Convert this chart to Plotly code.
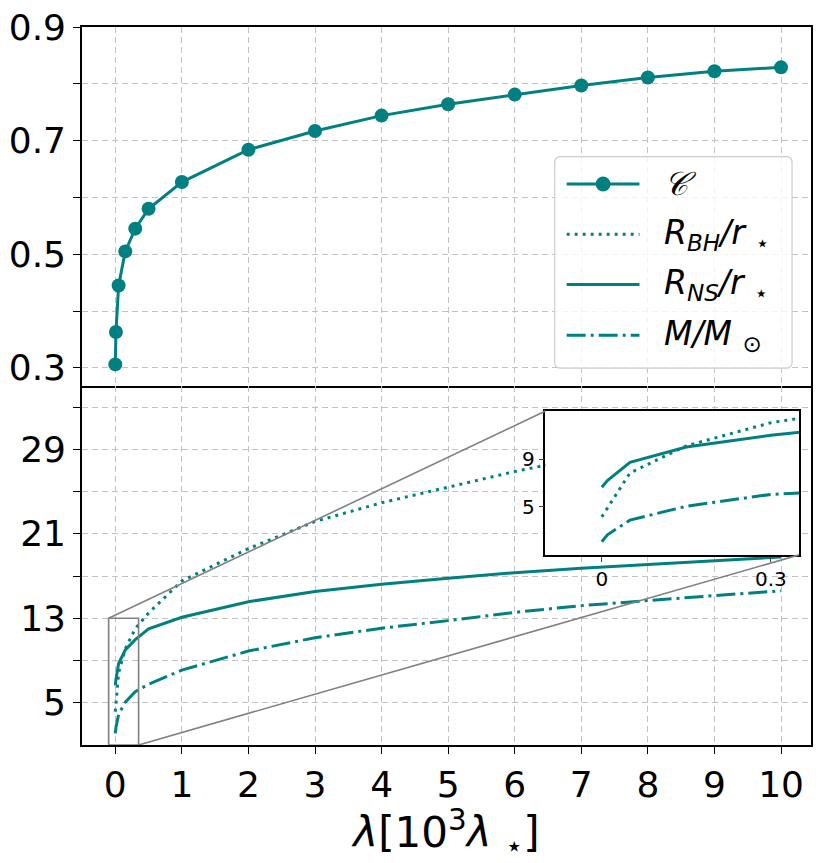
import plotly.graph_objects as go

# ---------------- data ----------------
lam = [0, 0.01, 0.05, 0.15, 0.3, 0.5, 1, 2, 3, 4, 5, 6, 7, 8, 9, 10]
compactness = [0.306, 0.363, 0.445, 0.505, 0.545, 0.580, 0.627, 0.684, 0.717,
               0.744, 0.764, 0.781, 0.797, 0.811, 0.822, 0.829]
r_bh = [4.17, 4.9, 7.84, 10.1, 12.03, 13.5, 16.54, 19.6, 22.17, 23.94, 25.44,
        26.9, 28.2, 29.4, 30.5, 31.5]
r_ns = [6.65, 7.2, 8.72, 10.0, 10.98, 12.0, 13.1, 14.57, 15.54, 16.23, 16.79,
        17.32, 17.75, 18.1, 18.45, 18.8]
mass = [2.1, 2.68, 3.9, 5.06, 6.05, 6.76, 8.09, 9.9, 11.16, 12.06, 12.78,
        13.56, 14.2, 14.7, 15.15, 15.6]

x_ticks = list(range(0, 11))
top_major = [0.3, 0.5, 0.7, 0.9]
top_minor = [0.4, 0.6, 0.8]
bot_major = [5, 13, 21, 29]
bot_minor = [9, 17, 25, 33]
inset_xticks = [0, 0.3]
inset_yticks = [5, 9]

legend_names = ["<i>𝒞</i>",
                "<i>R</i><sub><i>BH</i></sub><i>/r</i> <sub>⋆</sub>",
                "<i>R</i><sub><i>NS</i></sub><i>/r</i> <sub>⋆</sub>",
                "<i>M/M</i> <sub>⊙</sub>"]

# ---------------- style ----------------
TEAL = "#008080"
GRID = "#c2c2c2"
GRAY = "#808080"
FONT = "DejaVu Sans"
DOT = "3px,5px"
DASHDOT = "19px,5px,3px,5px"
LW = 3

W, H = 820, 863
ML, MR, MT, MB = 82, 7, 21, 118
PW, PH = W - ML - MR, H - MT - MB

XR = [-0.5, 10.45]
YR_TOP = [0.268, 0.9]
YR_BOT = [1, 35]
INSET_XR = [-0.1, 0.35]
INSET_YR = [1, 13]


def px2paper_x(px):
    return (px - ML) / PW


def px2paper_y(py):
    return (H - MB - py) / PH


inset_dom_x = [px2paper_x(546.7), px2paper_x(801)]
inset_dom_y = [px2paper_y(553.3), px2paper_y(408.3)]
split = 0.5

fig = go.Figure()

# top panel
fig.add_trace(go.Scatter(x=lam, y=compactness, mode="lines+markers",
                         line=dict(color=TEAL, width=LW),
                         marker=dict(color=TEAL, size=14),
                         xaxis="x", yaxis="y", showlegend=False))

# bottom panel + inset
for xa, ya in [("x2", "y2"), ("x3", "y3")]:
    fig.add_trace(go.Scatter(x=lam, y=r_bh, mode="lines",
                             line=dict(color=TEAL, width=LW, dash=DOT),
                             xaxis=xa, yaxis=ya, showlegend=False))
    fig.add_trace(go.Scatter(x=lam, y=r_ns, mode="lines",
                             line=dict(color=TEAL, width=LW),
                             xaxis=xa, yaxis=ya, showlegend=False))
    fig.add_trace(go.Scatter(x=lam, y=mass, mode="lines",
                             line=dict(color=TEAL, width=LW, dash=DASHDOT),
                             xaxis=xa, yaxis=ya, showlegend=False))

axis_common = dict(showline=True, linecolor="black", linewidth=1.6, mirror=True,
                   ticks="outside", ticklen=7, tickwidth=1.4, tickcolor="black",
                   showgrid=True, gridcolor=GRID, gridwidth=1.2, griddash="6px,4px",
                   zeroline=False, tickfont=dict(family=FONT, size=36, color="black"))


def minor(vals):
    return dict(tickvals=vals, ticks="outside", ticklen=7, tickwidth=1.4,
                tickcolor="black", showgrid=True, gridcolor=GRID, gridwidth=1.2,
                griddash="6px,4px")


fig.update_layout(
    width=W, height=H,
    margin=dict(l=ML, r=MR, t=MT, b=MB),
    paper_bgcolor="white", plot_bgcolor="rgb(255,255,255)",
    font=dict(family=FONT, color="black"),
    showlegend=False,
    xaxis=dict(axis_common, domain=[0, 1], anchor="y", range=XR, matches="x2",
               tickvals=x_ticks, showticklabels=False, ticks=""),
    yaxis=dict(axis_common, domain=[split, 1], anchor="x", range=YR_TOP,
               tickvals=top_major, ticktext=["0.3", "0.5", "0.7", "0.9"],
               minor=minor(top_minor)),
    xaxis2=dict(axis_common, domain=[0, 1], anchor="y2", range=XR, mirror=False,
                tickvals=x_ticks,
                title=dict(text="<i>λ</i>[10<sup>3</sup><i>λ</i> <sub>⋆</sub>]",
                           font=dict(family=FONT, size=42), standoff=6)),
    yaxis2=dict(axis_common, domain=[0, split], anchor="x2", range=YR_BOT,
                tickvals=bot_major, minor=minor(bot_minor)),
    xaxis3=dict(showline=True, linecolor="black", linewidth=1.6, mirror=True,
                domain=inset_dom_x, anchor="y3", range=INSET_XR,
                tickvals=inset_xticks, ticktext=["0", "0.3"],
                ticks="outside", ticklen=5, tickwidth=1.2, showgrid=False,
                zeroline=False, tickfont=dict(family=FONT, size=20, color="black")),
    yaxis3=dict(showline=True, linecolor="black", linewidth=1.6, mirror=True,
                domain=inset_dom_y, anchor="x3", range=INSET_YR,
                tickvals=inset_yticks, ticks="outside", ticklen=5, tickwidth=1.2,
                showgrid=False, zeroline=False,
                tickfont=dict(family=FONT, size=20, color="black")),
)

# inset indicator rectangle + connectors (main bottom axis coords)
fig.add_shape(type="rect", xref="x2", yref="y2",
              x0=INSET_XR[0], x1=INSET_XR[1], y0=INSET_YR[0], y1=INSET_YR[1],
              line=dict(color=GRAY, width=1.6), layer="above")


def paper_to_x2(p):
    return XR[0] + p * (XR[1] - XR[0])


def paper_to_y2(p):
    return YR_BOT[0] + p / split * (YR_BOT[1] - YR_BOT[0])


fig.add_shape(type="line", xref="x2", yref="y2",
              x0=INSET_XR[0], y0=INSET_YR[1],
              x1=paper_to_x2(inset_dom_x[0]), y1=paper_to_y2(inset_dom_y[1]),
              line=dict(color=GRAY, width=1.6), layer="above")
fig.add_shape(type="line", xref="x2", yref="y2",
              x0=INSET_XR[1], y0=INSET_YR[0],
              x1=paper_to_x2(inset_dom_x[1]), y1=paper_to_y2(inset_dom_y[0]),
              line=dict(color=GRAY, width=1.6), layer="above")

# ---------------- legend (manual) ----------------
bx0, bx1 = px2paper_x(556), px2paper_x(794)
by0, by1 = px2paper_y(365), px2paper_y(151.7)
rx, ry = 6 / PW, 6 / PH
path = (f"M{bx0+rx},{by0} L{bx1-rx},{by0} Q{bx1},{by0} {bx1},{by0+ry} "
        f"L{bx1},{by1-ry} Q{bx1},{by1} {bx1-rx},{by1} L{bx0+rx},{by1} "
        f"Q{bx0},{by1} {bx0},{by1-ry} L{bx0},{by0+ry} Q{bx0},{by0} {bx0+rx},{by0} Z")
fig.add_shape(type="path", xref="paper", yref="paper", path=path,
              fillcolor="rgba(255,255,255,0.8)", line=dict(color="#cccccc", width=1.2),
              layer="above")

row_py = [179.3, 230, 280.7, 331.7]
dashes = ["solid", DOT, "solid", DASHDOT]
lx0, lx1 = px2paper_x(568), px2paper_x(641)
for name, py, d in zip(legend_names, row_py, dashes):
    yy = px2paper_y(py)
    fig.add_shape(type="line", xref="paper", yref="paper", x0=lx0, x1=lx1, y0=yy, y1=yy,
                  line=dict(color=TEAL, width=LW, dash=d), layer="above")
    fig.add_annotation(xref="paper", yref="paper", x=px2paper_x(664), y=yy,
                       xanchor="left", yanchor="middle", showarrow=False,
                       text=name, font=dict(family=FONT, size=33, color="black"))

cx, cy = px2paper_x(604.5), px2paper_y(row_py[0])
r_px = 7.5
fig.add_shape(type="circle", xref="paper", yref="paper",
              x0=cx - r_px / PW, x1=cx + r_px / PW, y0=cy - r_px / PH, y1=cy + r_px / PH,
              fillcolor=TEAL, line=dict(width=0), layer="above")

fig.write_html("out.html")
